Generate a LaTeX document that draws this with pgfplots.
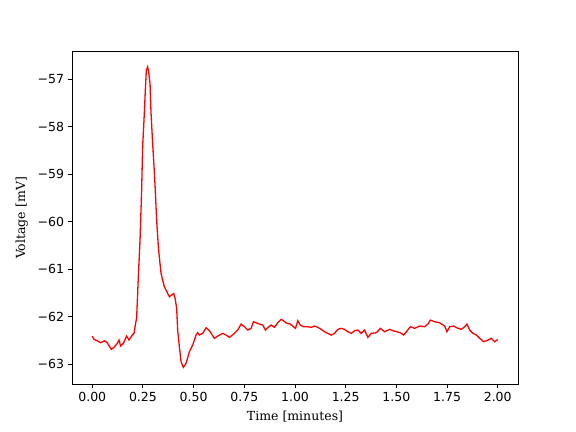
\documentclass[border=0pt]{standalone}
\usepackage{fontspec}
\setmainfont{DejaVu Serif}
\newfontfamily\dvsans{DejaVu Sans}
\usepackage{pgfplots}
\pgfplotsset{compat=1.18}
\usepackage{pgfplotstable}
\pgfplotstableread{
t V
0.0000 -62.411
0.0084 -62.480
0.0247 -62.509
0.0410 -62.552
0.0607 -62.509
0.0741 -62.552
0.0938 -62.691
0.1072 -62.648
0.1235 -62.564
0.1319 -62.495
0.1398 -62.621
0.1531 -62.564
0.1694 -62.411
0.1812 -62.495
0.1975 -62.389
0.2059 -62.354
0.2138 -62.143
0.2188 -62.030
0.2272 -61.162
0.2356 -60.389
0.2435 -59.337
0.2484 -58.425
0.2568 -57.722
0.2617 -57.232
0.2667 -56.811
0.2731 -56.741
0.2780 -56.846
0.2849 -57.091
0.2899 -57.722
0.2978 -58.354
0.3027 -58.705
0.3096 -59.232
0.3175 -59.968
0.3259 -60.531
0.3323 -60.811
0.3393 -61.091
0.3472 -61.232
0.3556 -61.373
0.3689 -61.484
0.3802 -61.583
0.3916 -61.547
0.4015 -61.516
0.4084 -61.617
0.4163 -61.827
0.4212 -62.284
0.4296 -62.636
0.4380 -62.952
0.4494 -63.069
0.4627 -62.985
0.4790 -62.741
0.4953 -62.600
0.5121 -62.389
0.5200 -62.341
0.5284 -62.389
0.5447 -62.354
0.5615 -62.236
0.5778 -62.299
0.6025 -62.459
0.6188 -62.411
0.6435 -62.354
0.6602 -62.389
0.6765 -62.438
0.7012 -62.354
0.7175 -62.284
0.7343 -62.158
0.7506 -62.215
0.7669 -62.284
0.7837 -62.248
0.7951 -62.109
0.8084 -62.131
0.8247 -62.158
0.8410 -62.179
0.8543 -62.284
0.8706 -62.215
0.8825 -62.179
0.8988 -62.227
0.9151 -62.131
0.9319 -62.059
0.9432 -62.088
0.9595 -62.143
0.9763 -62.158
0.9926 -62.215
1.0025 -62.248
1.0138 -62.088
1.0257 -62.179
1.0420 -62.215
1.0632 -62.215
1.0800 -62.227
1.0963 -62.200
1.1126 -62.227
1.1294 -62.269
1.1457 -62.320
1.1620 -62.354
1.1788 -62.389
1.1951 -62.354
1.2114 -62.269
1.2281 -62.248
1.2444 -62.269
1.2607 -62.320
1.2775 -62.354
1.2938 -62.299
1.3101 -62.284
1.3269 -62.354
1.3432 -62.284
1.3595 -62.438
1.3763 -62.354
1.4010 -62.341
1.4207 -62.248
1.4420 -62.320
1.4667 -62.269
1.4830 -62.299
1.5027 -62.320
1.5195 -62.341
1.5358 -62.389
1.5491 -62.320
1.5689 -62.215
1.5901 -62.248
1.6148 -62.200
1.6395 -62.215
1.6558 -62.158
1.6677 -62.074
1.6889 -62.109
1.7136 -62.131
1.7383 -62.200
1.7496 -62.320
1.7630 -62.215
1.7827 -62.200
1.8040 -62.248
1.8207 -62.269
1.8370 -62.215
1.8484 -62.158
1.8617 -62.284
1.8780 -62.354
1.8948 -62.389
1.9111 -62.459
1.9309 -62.530
1.9521 -62.495
1.9689 -62.459
1.9852 -62.530
2.0000 -62.484
}\trace
\begin{document}
\begin{tikzpicture}
\path[use as bounding box] (0,0) rectangle (576bp,432bp);
\begin{axis}[
  at={(72bp,48bp)}, anchor=south west,
  width=446bp, height=332bp, scale only axis,
  xmin=-0.1, xmax=2.1, ymin=-63.42, ymax=-56.43,
  axis line style={line width=1bp},
  tick align=outside, major tick length=4.4bp,
  xtick pos=bottom, ytick pos=left,
  every tick/.style={black, line width=1bp},
  xtick={0,0.25,0.5,0.75,1,1.25,1.5,1.75,2},
  xticklabels={0.00,0.25,0.50,0.75,1.00,1.25,1.50,1.75,2.00},
  ytick={-63,-62,-61,-60,-59,-58,-57},
  yticklabels={−63,−62,−61,−60,−59,−58,−57},
  ticklabel style={font=\dvsans\fontsize{12.5bp}{15bp}\selectfont},
  xlabel={Time [minutes]}, ylabel={Voltage [mV]},
  label style={font=\fontsize{12.5bp}{15bp}\selectfont},
  xlabel style={yshift=-3bp},
  ylabel style={yshift=3bp},
  minor tick num=0,
]
\addplot[red, line width=1.3bp, no marks] table[x=t,y=V] {\trace};
\end{axis}
\end{tikzpicture}
\end{document}
